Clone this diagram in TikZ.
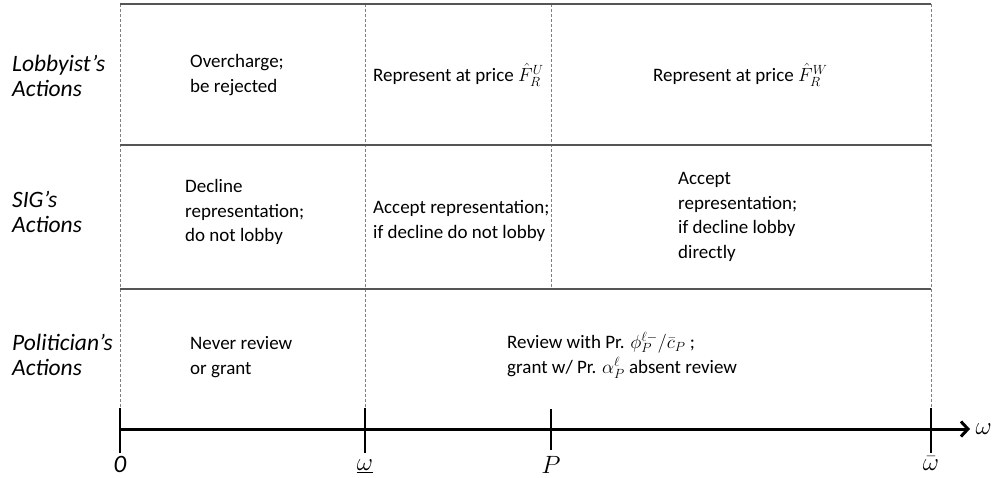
\RequirePackage{fix-cm}
\documentclass[tikz,border=0pt]{standalone}
\usepackage[no-math]{fontspec}
\setmainfont{Carlito}
\usetikzlibrary{positioning,arrows.meta}
\definecolor{shadebg}{RGB}{244,244,244}
\definecolor{rowline}{RGB}{85,85,85}

\begin{document}
\begin{tikzpicture}[x=1pt,y=-1pt,
    font=\fontsize{19}{24.5}\selectfont,
    cell/.style={align=left, anchor=west, inner sep=0pt},
    actor/.style={align=left, anchor=west, inner sep=0pt, font=\fontsize{23.5}{25}\selectfont\itshape},
    axlab/.style={font=\fontsize{25}{28}\selectfont},
    rowsep/.style={rowline, line width=1.3pt},
    guide/.style={gray, densely dashed, line width=0.7pt},
    tick/.style={line width=1.1pt},
    axis/.style={line width=3pt, -{Straight Barb[length=7pt,width=15pt]}}]

    \useasboundingbox (0,0) rectangle (995,477);

    % 坐标
    \coordinate (O)   at (120,429);
    \coordinate (W)   at (365,429);
    \coordinate (P)   at (551,429);
    \coordinate (Wb)  at (931,429);
    \coordinate (end) at (970,429);
    \coordinate (Ot)  at (120,4);
    \coordinate (Wt)  at (365,4);
    \coordinate (Pt)  at (551,4);
    \coordinate (Wbt) at (931,4);
    \coordinate (Pm)  at (551,289);

    % 阴影区域
    \fill[shadebg] (Wt) rectangle (W);

    % 虚线
    \draw[guide] (Ot) -- ([yshift=-24pt]O);
    \draw[guide] (Wt) -- ([yshift=-24pt]W);
    \draw[guide] (Pt) -- (Pm);
    \draw[guide] (Wbt) -- ([yshift=-24pt]Wb);

    % 行分隔线
    \draw[rowsep] (Ot) -- (Wbt);
    \draw[rowsep] (120,145) -- (931,145);
    \draw[rowsep] (120,289) -- (Pm) -- (931,289);

    % 左侧标签
    \node[actor] (lob) at (12,76)  {Lobbyist's\\Actions};
    \node[actor] (sig) at (12,212) {SIG's\\Actions};
    \node[actor] (pol) at (12,355) {Politician's\\Actions};

    % 1. 游说者
    \node[cell] (over)  at (190,75) {Overcharge;\\be rejected};
    \node[cell] (repU)  at (373,75) {Represent at price $\hat{F}_R^U$};
    \node[cell] (repW)  at (653,75) {Represent at price $\hat{F}_R^W$};

    % 2. SIG
    \node[cell] (decl)  at (185,212) {Decline\\representation;\\do not lobby};
    \node[cell] (accU)  at (373,221) {Accept representation;\\if decline do not lobby};
    \node[cell] (accW)  at (678,217) {Accept\\representation;\\if decline lobby\\directly};

    % 3. 政治家
    \node[cell] (never) at (190,357) {Never review\\or grant};
    \node[cell] (rev)   at (507,355) {Review with Pr. $\phi_P^{\ell-}/\bar{c}_P$ ;\\grant w/ Pr. $\alpha_P^{\ell}$ absent review};

    % 坐标轴
    \draw[axis] (O) -- (end);
    \node[axlab] (omega) [right=2pt of end] {$\omega$};
    \draw[tick] ([yshift=-24pt]O)  -- ([yshift=21pt]O);
    \draw[tick] ([yshift=-24pt]W)  -- ([yshift=21pt]W);
    \draw[tick] ([yshift=-21pt]P)  -- ([yshift=20pt]P);
    \draw[tick] ([yshift=-24pt]Wb) -- ([yshift=21pt]Wb);

    \node[axlab] (zero) [below=24pt of O]  {\itshape 0};
    \node[axlab] (low)  [below=27pt of W]  {$\underline{\omega}$};
    \node[axlab] (pp)   [below=24pt of P]  {$P$};
    \node[axlab] (high) [below=24pt of Wb] {$\bar{\omega}$};

\end{tikzpicture}
\end{document}
